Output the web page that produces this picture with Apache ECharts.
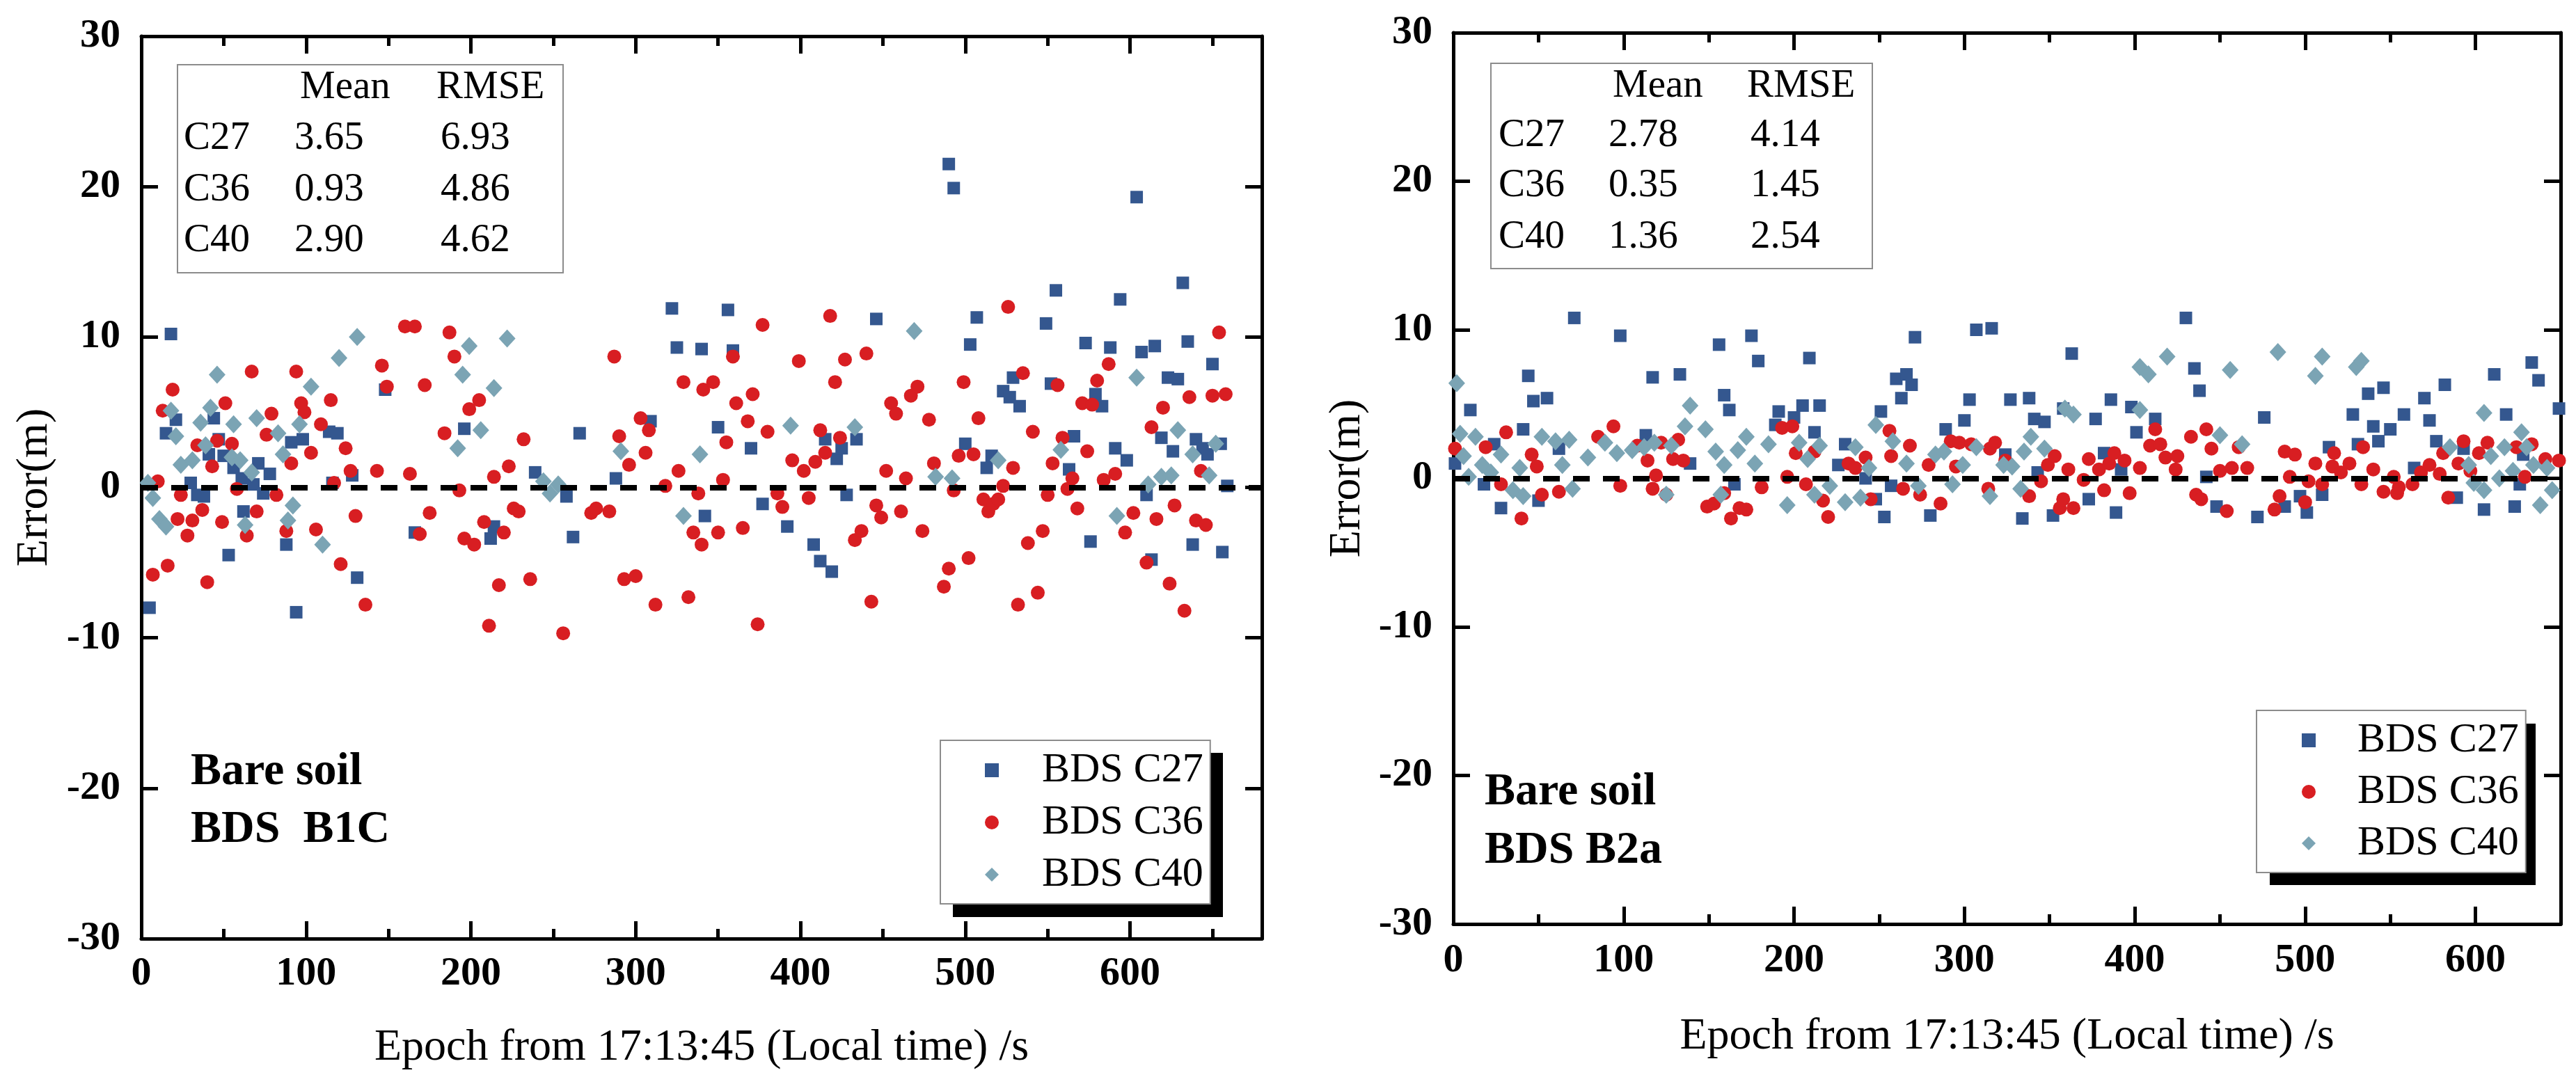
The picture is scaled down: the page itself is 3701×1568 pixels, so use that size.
<!DOCTYPE html>
<html><head><meta charset="utf-8">
<script src="https://cdn.jsdelivr.net/npm/echarts@6/dist/echarts.min.js"></script>
<style>html,body{margin:0;padding:0;background:#fff}#c{width:3701px;height:1568px}</style>
</head><body><div id="c"></div>
<script>
// ---------------- DATA ----------------
const seriesNames = ['BDS C27', 'BDS C36', 'BDS C40'];
const statHeader = ['Mean', 'RMSE'];
const statsB1C = [['C27', '3.65', '6.93'], ['C36', '0.93', '4.86'], ['C40', '2.90', '4.62']];
const statsB2a = [['C27', '2.78', '4.14'], ['C36', '0.35', '1.45'], ['C40', '1.36', '2.54']];
const panelLabelsB1C = ['Bare soil', 'BDS  B1C'];
const panelLabelsB2a = ['Bare soil', 'BDS B2a'];
const xTitle = 'Epoch from 17:13:45 (Local time) /s';
const yTitle = 'Error(m)';
const xMaxB1C = 680, xMaxB2a = 650;

// B1C panel: [epoch (s), error (m)]
const b1cC27 = [[5,-8.0],[15,3.6],[18,10.2],[21,4.5],[30,0.3],[34,-0.5],[38,-0.6],[41,2.2],[44,4.6],[47,3.2],[50,2.1],[53,-4.5],[56,1.3],[61,0.6],[62,-1.6],[68,0.2],[71,1.6],[74,-0.4],[78,0.9],[88,-3.8],[91,3.0],[94,-8.3],[98,3.2],[114,3.7],[116,0.3],[119,3.6],[128,0.8],[131,-6.0],[148,6.5],[166,-3.0],[196,3.9],[212,-3.4],[214,-2.6],[239,1.0],[258,-0.6],[262,-3.3],[266,3.6],[288,0.6],[309,4.4],[322,11.9],[325,9.3],[340,9.2],[342,-1.9],[350,4.0],[356,11.8],[359,9.1],[370,2.6],[377,-1.1],[392,-2.6],[408,-3.8],[412,-4.9],[415,3.2],[419,-5.6],[422,1.9],[425,2.6],[428,-0.5],[434,3.2],[446,11.2],[490,21.5],[493,19.9],[500,2.9],[503,9.5],[507,11.3],[513,1.3],[516,2.1],[523,6.4],[527,6.0],[529,7.3],[533,5.4],[549,10.9],[552,6.9],[555,13.1],[563,1.2],[566,3.4],[573,9.6],[576,-3.6],[579,6.2],[583,5.4],[588,9.3],[591,2.6],[594,12.5],[598,1.8],[604,19.3],[607,9.0],[610,-0.5],[613,-4.8],[615,9.4],[619,3.3],[623,7.3],[626,2.4],[629,7.2],[632,13.6],[635,9.7],[638,-3.8],[640,3.2],[644,2.6],[647,2.2],[650,8.2],[655,2.9],[656,-4.3],[659,0.1]];
const b1cC36 = [[7,-5.8],[10,0.4],[13,5.1],[16,-5.2],[19,6.5],[22,-2.1],[24,-0.5],[28,-3.2],[31,-2.2],[34,2.8],[37,-1.5],[40,-6.3],[43,1.4],[46,3.1],[49,-2.3],[51,5.6],[55,2.9],[58,-0.1],[64,-3.2],[67,7.7],[70,-1.6],[76,3.5],[79,4.9],[82,-0.5],[88,-2.9],[91,1.6],[94,7.7],[97,5.6],[99,5.0],[103,2.3],[106,-2.8],[109,4.2],[115,5.8],[117,0.3],[121,-5.1],[124,2.6],[127,1.1],[130,-1.9],[136,-7.8],[143,1.1],[146,8.1],[149,6.7],[160,10.7],[163,0.9],[166,10.7],[169,-3.1],[172,6.8],[175,-1.7],[184,3.6],[187,10.3],[190,8.7],[193,-0.2],[196,-3.4],[199,5.2],[202,-3.8],[205,5.8],[208,-2.3],[211,-9.2],[214,0.7],[217,-6.5],[220,-3.0],[223,1.4],[226,-1.4],[229,-1.6],[232,3.2],[236,-6.1],[256,-9.7],[273,-1.7],[276,-1.4],[284,-1.6],[287,8.7],[290,3.4],[293,-6.1],[296,1.5],[300,-5.9],[303,4.6],[306,2.3],[308,3.8],[312,-7.8],[318,0.1],[326,1.1],[329,7.0],[332,-7.3],[335,-3.0],[338,-0.4],[340,-3.8],[341,6.5],[347,7.0],[350,-3.0],[353,0.5],[355,3.0],[359,8.7],[361,5.6],[365,-2.7],[368,4.4],[371,6.2],[374,-9.1],[377,10.8],[380,3.7],[386,-0.4],[389,-1.3],[395,1.8],[399,8.4],[402,1.1],[405,-0.7],[409,1.7],[412,3.8],[415,2.3],[418,11.4],[421,7.0],[424,3.3],[427,8.5],[433,-3.5],[437,-2.9],[440,8.9],[443,-7.6],[446,-1.2],[449,-2.0],[452,1.1],[455,5.6],[458,4.9],[461,-1.6],[464,0.6],[467,6.1],[471,6.7],[474,-2.9],[478,4.5],[481,1.6],[487,-6.6],[490,-5.4],[493,-0.2],[496,2.1],[499,7.0],[502,-4.7],[505,2.2],[508,4.6],[511,-0.8],[514,-1.6],[517,-1.1],[520,-0.8],[523,0.1],[526,12.0],[529,1.3],[532,-7.8],[535,7.6],[538,-3.7],[541,3.7],[544,-7.0],[547,-2.9],[550,-0.5],[553,1.6],[556,6.8],[559,3.3],[562,-0.1],[565,0.6],[568,-1.4],[571,5.6],[574,2.4],[577,5.5],[580,7.1],[584,0.5],[587,8.2],[591,0.9],[597,-3.0],[602,-1.7],[610,-5.0],[613,4.0],[616,-2.1],[620,5.3],[624,-6.4],[627,-1.2],[633,-8.2],[636,6.0],[640,-2.2],[643,1.1],[646,-2.5],[650,6.1],[654,10.3],[658,6.2]];
const b1cC40 = [[4,0.3],[7,-0.7],[11,-2.1],[15,-2.6],[18,5.1],[21,3.4],[24,1.5],[31,1.8],[36,4.3],[39,2.8],[42,5.3],[46,7.5],[55,2.0],[56,4.2],[60,1.8],[63,-2.5],[67,1.0],[70,4.6],[83,3.6],[86,2.2],[89,-2.2],[92,-1.2],[96,4.2],[103,6.7],[110,-3.8],[120,8.6],[131,10.0],[192,2.6],[195,7.5],[199,9.4],[206,3.8],[214,6.6],[222,9.9],[244,0.4],[248,-0.4],[253,0.2],[291,2.4],[329,-1.9],[339,2.2],[394,4.1],[433,4.0],[469,10.4],[482,0.7],[492,0.6],[520,1.8],[558,2.5],[592,-1.9],[604,7.3],[611,0.2],[619,0.7],[625,0.8],[629,3.8],[638,2.2],[648,0.8],[652,2.9]];

// B2a panel: [epoch (s), error (m)]
const b2aC27 = [[1,1.0],[10,4.6],[18,-0.4],[24,2.3],[28,-2.0],[41,3.3],[44,6.9],[47,5.2],[50,-1.5],[55,5.4],[62,2.0],[71,10.8],[98,9.6],[113,2.9],[117,6.8],[133,7.0],[139,1.0],[156,9.0],[159,5.6],[162,4.6],[165,-0.4],[175,9.6],[179,7.9],[189,3.6],[191,4.5],[200,4.1],[205,4.9],[209,8.1],[212,3.1],[215,4.9],[226,0.9],[230,2.3],[242,0.0],[248,-1.4],[251,4.5],[253,-2.6],[257,-0.5],[260,6.7],[263,5.4],[266,7.0],[269,6.3],[271,9.5],[280,-2.5],[289,3.3],[300,3.9],[303,5.3],[307,10.0],[316,10.1],[324,1.6],[327,5.3],[334,-2.7],[338,5.4],[341,4.0],[343,0.4],[347,3.8],[352,-2.5],[358,4.7],[363,8.4],[373,-1.4],[377,4.0],[382,1.7],[386,5.3],[389,-2.3],[392,0.6],[398,4.8],[401,3.1],[412,4.0],[430,10.8],[435,7.4],[438,5.9],[442,0.1],[448,-1.9],[472,-2.6],[476,4.1],[488,-1.9],[497,-1.2],[501,-2.3],[510,-1.1],[514,2.1],[528,4.3],[531,2.3],[537,5.7],[540,3.5],[543,2.5],[546,6.1],[550,3.3],[558,4.3],[564,0.7],[570,5.4],[573,3.9],[577,2.5],[582,6.3],[589,-1.3],[593,2.0],[605,-2.1],[611,7.0],[618,4.3],[623,-1.9],[626,-0.4],[628,1.6],[633,7.8],[637,6.6],[649,4.7]];
const b2aC36 = [[1,2.0],[19,2.1],[28,-0.4],[31,3.1],[40,-2.7],[46,1.6],[49,0.8],[52,-1.1],[62,-0.9],[85,2.8],[94,3.5],[98,-0.5],[108,2.2],[114,1.2],[117,-0.7],[119,0.2],[122,2.4],[125,-1.1],[129,1.3],[132,2.6],[135,1.2],[149,-1.9],[153,-1.7],[159,-1.0],[163,-2.7],[168,-2.0],[172,-2.1],[181,-0.6],[193,3.4],[196,0.1],[199,3.5],[201,1.7],[207,-0.4],[212,1.8],[217,-1.5],[220,-2.6],[232,1.0],[236,0.7],[242,1.4],[245,-1.4],[256,3.2],[257,1.5],[264,-0.7],[268,2.2],[274,-1.1],[279,0.9],[286,-1.7],[292,2.5],[295,0.8],[297,2.4],[304,2.3],[314,-0.7],[315,2.0],[318,2.4],[324,1.2],[338,-1.2],[345,-0.2],[349,0.9],[353,1.5],[356,-2.0],[358,-1.4],[361,0.6],[364,-2.0],[370,-0.1],[373,1.3],[379,0.6],[382,-0.8],[385,1.0],[388,1.7],[394,1.2],[397,-1.0],[403,0.7],[409,2.2],[412,3.3],[415,2.3],[418,1.4],[424,0.6],[425,1.5],[433,2.8],[436,-1.1],[439,-1.4],[442,3.3],[445,2.0],[450,0.5],[454,-2.2],[457,0.7],[461,2.1],[466,0.7],[482,-2.1],[485,-1.2],[488,1.8],[491,0.1],[494,1.6],[500,-1.6],[502,-0.2],[506,1.0],[510,-0.4],[516,0.8],[517,1.7],[521,0.4],[526,1.0],[533,-0.4],[534,2.1],[540,0.6],[546,-0.9],[552,0.1],[554,-1.0],[555,-0.6],[563,-0.4],[568,0.4],[573,0.9],[579,0.3],[581,1.7],[584,-1.3],[590,1.0],[593,2.5],[597,0.5],[602,1.7],[607,2.4],[624,2.1],[629,0.1],[633,2.3],[641,1.3],[649,1.2]];
const b2aC40 = [[2,6.4],[4,3.0],[6,1.5],[9,0.1],[13,2.8],[17,0.9],[22,0.4],[28,1.6],[35,-0.8],[39,0.7],[41,-1.2],[52,2.8],[60,2.5],[64,0.9],[68,2.6],[70,-0.7],[79,1.4],[89,2.4],[96,1.7],[105,1.9],[112,2.1],[118,2.4],[125,-1.1],[128,2.2],[136,3.5],[139,4.9],[148,3.3],[154,1.8],[157,-1.1],[159,0.9],[167,1.9],[172,2.8],[177,1.0],[185,2.3],[196,-1.8],[203,2.4],[208,1.3],[212,-1.1],[215,2.2],[221,-0.5],[230,-1.6],[236,2.1],[239,-1.3],[244,0.7],[248,3.6],[258,2.5],[266,1.0],[273,-0.5],[283,1.6],[288,1.8],[293,-0.4],[299,0.9],[307,2.1],[315,-1.2],[323,0.9],[328,0.8],[333,-0.7],[335,1.8],[339,2.8],[347,2.0],[359,4.7],[364,4.3],[403,7.5],[403,4.6],[408,7.0],[419,8.2],[450,2.9],[456,7.3],[463,2.3],[484,8.5],[506,6.9],[510,8.2],[530,7.5],[533,7.9],[585,2.1],[596,0.9],[599,-0.3],[605,-0.8],[605,4.4],[609,1.5],[614,0.0],[617,2.1],[622,0.5],[627,3.1],[630,2.1],[634,0.9],[638,-1.8],[642,0.7],[645,-0.8]];

// ---------------- STYLE / LAYOUT ----------------
const FONT = '"Times New Roman", "Liberation Serif", serif';
const COLORS = ['#34578f', '#d81e22', '#7ba4b4'];
const SYMBOLS = ['rect', 'circle', 'diamond'];
const SYMSIZE = [18, 20, [24, 26]];

const panels = [
  { xMax: xMaxB1C, data: [b1cC27, b1cC36, b1cC40], stats: statsB1C, labels: panelLabelsB1C,
    grid: { left: 203, top: 52, width: 1610, height: 1297 }, xLabelMargin: 22, xNameGap: 125, yNameGap: 121,
    table: { x: 255, y: 93, w: 554, h: 299, colX: [264, 423, 633], headX: [431, 627], rowY: [126, 199, 273, 346] },
    ann: { x: 274, y: [1110, 1193] },
    legend: { left: 1351, top: 1064, padding: [13, 10, 12, 64], textPad: 57, gap: 15, shadow: [1369, 1082, 388, 236] } },
  { xMax: xMaxB2a, data: [b2aC27, b2aC36, b2aC40], stats: statsB2a, labels: panelLabelsB2a,
    grid: { left: 2088, top: 47, width: 1591, height: 1281 }, xLabelMargin: 24, xNameGap: 130, yNameGap: 120,
    table: { x: 2142, y: 91, w: 548, h: 295, colX: [2153, 2311, 2515], headX: [2317, 2510], rowY: [124, 195, 267, 341] },
    ann: { x: 2133, y: [1139, 1223] },
    legend: { left: 3242, top: 1021, padding: [13, 10, 12, 65], textPad: 55, gap: 14, shadow: [3261, 1040, 382, 232] } }
];

const lineSt = { color: '#000', width: 5 };
const grids = [], xAxes = [], yAxes = [], series = [], legends = [], graphics = [];

panels.forEach((p, i) => {
  grids.push(Object.assign({ outerBoundsMode: 'none', containLabel: false }, p.grid));
  const xb = { gridIndex: i, type: 'value', min: 0, max: p.xMax, splitLine: { show: false },
    axisLine: { show: true, onZero: false, lineStyle: lineSt }, axisLabel: { show: false } };
  xAxes.push(Object.assign({}, xb, { position: 'bottom', interval: 100,
    axisTick: { inside: true, length: 25, lineStyle: lineSt },
    axisLabel: { show: true, margin: p.xLabelMargin, fontSize: 58, fontWeight: 'bold', fontFamily: FONT, color: '#000',
      formatter: v => (v % 100 === 0 ? String(v) : '') },
    name: xTitle, nameLocation: 'middle', nameGap: p.xNameGap,
    nameTextStyle: { fontSize: 64, fontFamily: FONT, color: '#000' } }));
  xAxes.push(Object.assign({}, xb, { position: 'bottom', interval: 50,
    axisLine: { show: false, onZero: false }, axisTick: { inside: true, length: 14, lineStyle: lineSt } }));
  xAxes.push(Object.assign({}, xb, { position: 'top', interval: 100,
    axisTick: { inside: true, length: 25, lineStyle: lineSt } }));
  xAxes.push(Object.assign({}, xb, { position: 'top', interval: 50,
    axisLine: { show: false, onZero: false }, axisTick: { inside: true, length: 14, lineStyle: lineSt } }));
  const yb = { gridIndex: i, type: 'value', min: -30, max: 30, interval: 10, splitLine: { show: false },
    axisLine: { show: true, onZero: false, lineStyle: lineSt }, axisTick: { inside: true, length: 24, lineStyle: lineSt } };
  yAxes.push(Object.assign({}, yb, { position: 'left',
    axisLabel: { show: true, margin: 30, fontSize: 58, fontWeight: 'bold', fontFamily: FONT, color: '#000' },
    name: yTitle, nameLocation: 'middle', nameGap: p.yNameGap,
    nameTextStyle: { fontSize: 64, fontFamily: FONT, color: '#000' } }));
  yAxes.push(Object.assign({}, yb, { position: 'right', axisLabel: { show: false } }));

  p.data.forEach((d, k) => {
    const s = { type: 'scatter', name: seriesNames[k], xAxisIndex: 4 * i, yAxisIndex: 2 * i,
      data: d, symbol: SYMBOLS[k], symbolSize: SYMSIZE[k], itemStyle: { color: COLORS[k], opacity: 1 },
      emphasis: { disabled: true } };
    if (k === 2) {
      s.markLine = { silent: true, symbol: ['none', 'none'], label: { show: false }, animation: false,
        lineStyle: { color: '#000', width: 8, type: [24, 19], opacity: 1 }, data: [{ yAxis: 0 }] };
    }
    series.push(s);
  });

  const lg = p.legend;
  legends.push({ show: true, orient: 'vertical', left: lg.left, top: lg.top, padding: lg.padding,
    itemWidth: 20, itemHeight: 20, itemGap: lg.gap, selectedMode: false,
    backgroundColor: '#fff', borderColor: '#8c8c8c', borderWidth: 2, z: 6,
    data: seriesNames.map((n, k) => ({ name: n, icon: SYMBOLS[k] })),
    textStyle: { fontFamily: FONT, fontSize: 60, color: '#000', lineHeight: 60, padding: [0, 0, 0, lg.textPad] } });
  graphics.push({ type: 'rect', z: 5, silent: true,
    shape: { x: lg.shadow[0], y: lg.shadow[1], width: lg.shadow[2], height: lg.shadow[3] },
    style: { fill: '#000' } });

  const t = p.table;
  graphics.push({ type: 'rect', z: 5, silent: true, shape: { x: t.x, y: t.y, width: t.w, height: t.h },
    style: { fill: '#fff', stroke: '#8c8c8c', lineWidth: 2 } });
  const tf = '57px ' + FONT;
  statHeader.forEach((h, c) => graphics.push({ type: 'text', z: 6, silent: true, x: t.headX[c], y: t.rowY[0],
    style: { text: h, font: tf, fill: '#000', align: 'left', verticalAlign: 'middle' } }));
  p.stats.forEach((row, r) => row.forEach((cell, c) => graphics.push({ type: 'text', z: 6, silent: true,
    x: t.colX[c], y: t.rowY[r + 1], style: { text: cell, font: tf, fill: '#000', align: 'left', verticalAlign: 'middle' } })));

  p.labels.forEach((txt, r) => graphics.push({ type: 'text', z: 6, silent: true, x: p.ann.x, y: p.ann.y[r],
    style: { text: txt, font: 'bold 66px ' + FONT, fill: '#000', align: 'left', verticalAlign: 'middle' } }));
});

const chart = echarts.init(document.getElementById('c'), null, { renderer: 'canvas', width: 3701, height: 1568 });
chart.setOption({
  backgroundColor: '#fff', animation: false,
  grid: grids, xAxis: xAxes, yAxis: yAxes, series: series, legend: legends, graphic: graphics
});
</script></body></html>
